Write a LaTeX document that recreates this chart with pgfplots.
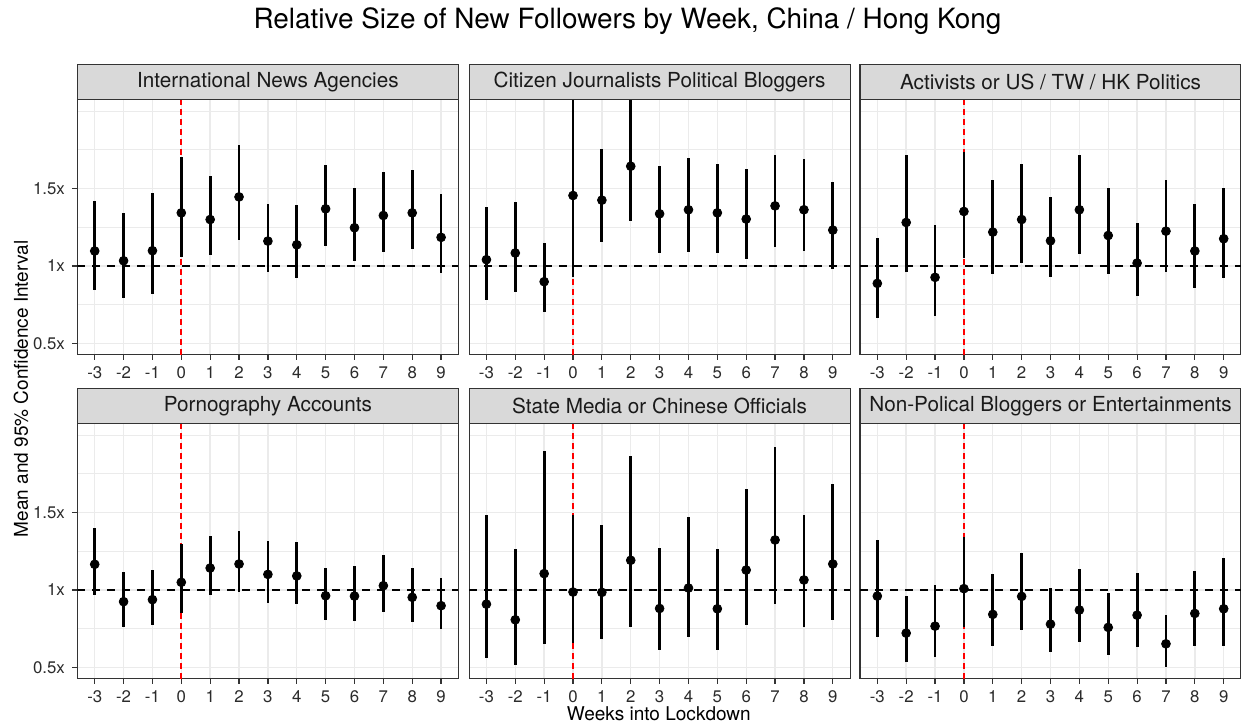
\documentclass[border=0pt]{standalone}
\usepackage{fontspec}
\setmainfont{TeX Gyre Heros}
\usepackage{pgfplots}
\pgfplotsset{compat=1.18}
\usepackage{pgfplotstable}

\definecolor{gridc}{HTML}{EBEBEB}
\definecolor{framec}{HTML}{333333}
\definecolor{stripc}{HTML}{D9D9D9}
\definecolor{textc}{HTML}{1A1A1A}
\definecolor{tickc}{HTML}{2B2B2B}
\definecolor{refred}{HTML}{FF0000}

\pgfplotstableread{
x m lo hi
-3 1.097 0.843 1.420
-2 1.034 0.794 1.343
-1 1.099 0.820 1.470
0 1.343 1.058 1.706
1 1.300 1.069 1.584
2 1.446 1.170 1.781
3 1.161 0.961 1.397
4 1.137 0.925 1.395
5 1.369 1.129 1.655
6 1.247 1.030 1.504
7 1.326 1.092 1.609
8 1.343 1.112 1.622
9 1.185 0.955 1.466
}\dataA

\pgfplotstableread{
x m lo hi
-3 1.041 0.783 1.380
-2 1.084 0.835 1.410
-1 0.899 0.706 1.146
0 1.455 0.929 2.200
1 1.425 1.155 1.758
2 1.644 1.290 2.200
3 1.337 1.086 1.644
4 1.363 1.092 1.700
5 1.343 1.086 1.661
6 1.303 1.047 1.624
7 1.388 1.122 1.719
8 1.363 1.094 1.693
9 1.232 0.981 1.543
}\dataB

\pgfplotstableread{
x m lo hi
-3 0.888 0.667 1.180
-2 1.281 0.959 1.715
-1 0.927 0.678 1.264
0 1.352 1.049 1.734
1 1.219 0.951 1.552
2 1.300 1.017 1.659
3 1.163 0.929 1.448
4 1.363 1.075 1.719
5 1.197 0.948 1.506
6 1.019 0.809 1.279
7 1.225 0.964 1.558
8 1.097 0.856 1.397
9 1.176 0.921 1.506
}\dataC

\pgfplotstableread{
x m lo hi
-3 1.166 0.968 1.403
-2 0.925 0.763 1.119
-1 0.938 0.776 1.131
0 1.050 0.849 1.295
1 1.142 0.968 1.347
2 1.168 0.985 1.379
3 1.101 0.916 1.319
4 1.091 0.907 1.308
5 0.963 0.808 1.144
6 0.961 0.800 1.155
7 1.028 0.858 1.226
8 0.953 0.791 1.142
9 0.899 0.746 1.080
}\dataD

\pgfplotstableread{
x m lo hi
-3 0.909 0.563 1.485
-2 0.808 0.517 1.265
-1 1.106 0.653 1.899
0 0.987 0.657 1.481
1 0.985 0.683 1.422
2 1.192 0.763 1.862
3 0.881 0.612 1.272
4 1.013 0.700 1.472
5 0.879 0.612 1.263
6 1.129 0.774 1.649
7 1.323 0.909 1.920
8 1.065 0.761 1.483
9 1.168 0.808 1.685
}\dataE

\pgfplotstableread{
x m lo hi
-3 0.961 0.700 1.321
-2 0.722 0.537 0.961
-1 0.767 0.567 1.034
0 1.009 0.761 1.343
1 0.843 0.640 1.106
2 0.959 0.741 1.237
3 0.780 0.599 1.011
4 0.871 0.668 1.134
5 0.759 0.582 0.981
6 0.838 0.634 1.108
7 0.653 0.504 0.841
8 0.849 0.640 1.121
9 0.879 0.638 1.205
}\dataF

\pgfplotsset{
  panel/.style={
    width=190.5pt, height=127.5pt, scale only axis,
    anchor=north west,
    xmin=-3.6, xmax=9.6, ymin=0.43, ymax=2.075,
    xtick={-3,-2,-1,0,1,2,3,4,5,6,7,8,9},
    xticklabels={-3,-2,-1,0,1,2,3,4,5,6,7,8,9},
    ytick={0.5,1,1.5},
    minor ytick={0.75,1.25,1.75,2},
    grid=both,
    major grid style={draw=gridc, line width=0.7pt},
    minor grid style={draw=gridc, line width=0.5pt},
    axis line style={draw=framec, line width=0.6pt},
    tick style={draw=framec, line width=0.6pt},
    major tick length=2.75pt, minor tick length=0pt,
    tick align=outside,
    xtick pos=bottom, ytick pos=left,
    tick label style={font=\fontsize{8.4}{10}\selectfont, text=tickc},
  },
  leftpanel/.style={panel, yticklabels={0.5x,1x,1.5x}},
  innerpanel/.style={panel, yticklabels={}, y tick style={draw=none}},
}

\newcommand{\refs}{%
  \addplot[draw=refred, line width=0.9pt, dash pattern=on 3pt off 2pt] coordinates {(0,0.3) (0,2.2)};
  \addplot[black, line width=0.6pt, dash pattern=on 4pt off 3.5pt] coordinates {(-3.6,1) (9.6,1)};
}
\newcommand{\pts}[1]{%
  \addplot[only marks, mark=*, mark size=2.2pt, black, mark options={fill=black, draw=black},
    error bars/.cd, y dir=both, y explicit,
    error bar style={line width=1.4pt, black}, error mark=none]
    table[x=x, y=m, y error plus expr=\thisrow{hi}-\thisrow{m}, y error minus expr=\thisrow{m}-\thisrow{lo}] {#1};
}
\newcommand{\strip}[2]{%
  \draw[fill=stripc, draw=framec, line width=0.6pt] (#1.north west) rectangle ([yshift=17.3pt]#1.north east);
  \node[font=\fontsize{10.35}{12}\selectfont, text=textc] at ([yshift=8.65pt]#1.north) {#2};
}

\begin{document}
\begin{tikzpicture}
\path[use as bounding box] (0,0) rectangle (620.5pt,-363pt);

\begin{axis}[leftpanel, name=p1, at={(38.7pt,-49.7pt)}]
\refs
\pts{\dataA}
\end{axis}
\begin{axis}[innerpanel, name=p2, at={(234.55pt,-49.7pt)}]
\refs
\pts{\dataB}
\end{axis}
\begin{axis}[innerpanel, name=p3, at={(430pt,-49.7pt)}]
\refs
\pts{\dataC}
\end{axis}
\begin{axis}[leftpanel, name=p4, at={(38.7pt,-211.7pt)}]
\refs
\pts{\dataD}
\end{axis}
\begin{axis}[innerpanel, name=p5, at={(234.55pt,-211.7pt)}]
\refs
\pts{\dataE}
\end{axis}
\begin{axis}[innerpanel, name=p6, at={(430pt,-211.7pt)}]
\refs
\pts{\dataF}
\end{axis}

\strip{p1}{International News Agencies}
\strip{p2}{Citizen Journalists Political Bloggers}
\strip{p3}{Activists or US / TW / HK Politics}
\strip{p4}{Pornography Accounts}
\strip{p5}{State Media or Chinese Officials}
\strip{p6}{Non-Polical Bloggers or Entertainments}

\node[font=\fontsize{13.95}{16}\selectfont, text=black] at (313.75pt,-10.5pt) {Relative Size of New Followers by Week, China / Hong Kong};
\node[font=\fontsize{9.5}{11}\selectfont, text=black, rotate=90] at (10.5pt,-194.5pt) {Mean and 95\% Confidence Interval};
\node[font=\fontsize{9.5}{11}\selectfont, text=black] at (329.4pt,-357pt) {Weeks into Lockdown};
\end{tikzpicture}
\end{document}
